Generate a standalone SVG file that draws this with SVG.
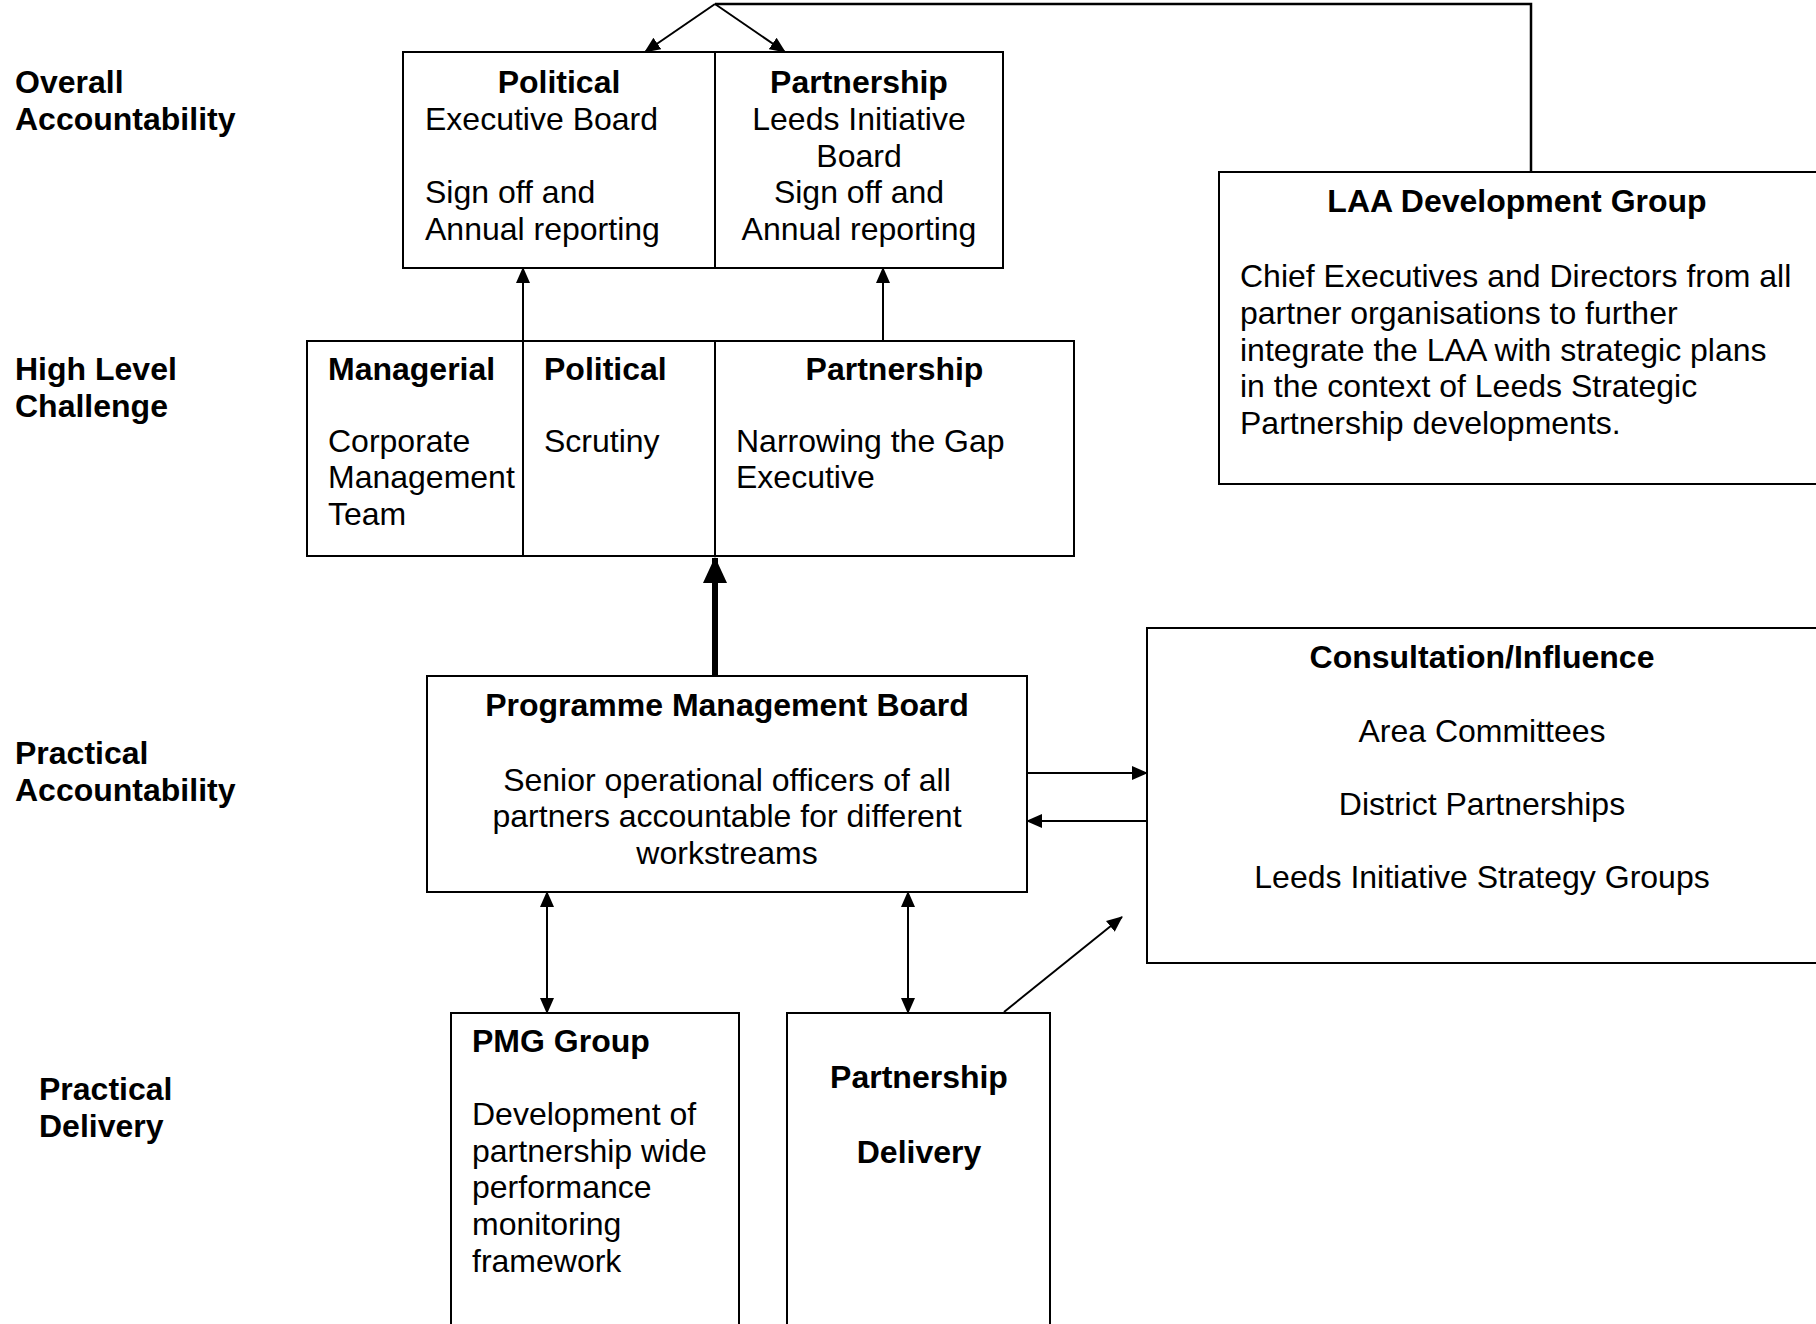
<svg xmlns="http://www.w3.org/2000/svg" width="1816" height="1324" viewBox="0 0 1816 1324">
<style>
text{font-family:"Liberation Sans",Arial,sans-serif;font-size:32px;fill:#000}
.b{font-weight:bold}
.m{text-anchor:middle}
.box{fill:#fff;stroke:#000;stroke-width:2}
.ln{fill:none;stroke:#000;stroke-width:2}
.c{fill:none;stroke:#000;stroke-width:2;marker-end:url(#ah)}
.d{fill:none;stroke:#000;stroke-width:2;marker-end:url(#ah);marker-start:url(#ahs)}
</style>
<defs>
<marker id="ah" viewBox="0 0 16 14" refX="15" refY="7" markerWidth="16" markerHeight="14" markerUnits="userSpaceOnUse" orient="auto"><path d="M0,0 L16,7 L0,14 z" fill="#000"/></marker>
<marker id="ahs" viewBox="0 0 16 14" refX="15" refY="7" markerWidth="16" markerHeight="14" markerUnits="userSpaceOnUse" orient="auto-start-reverse"><path d="M0,0 L16,7 L0,14 z" fill="#000"/></marker>
<marker id="ahb" viewBox="0 0 26 24" refX="25" refY="12" markerWidth="26" markerHeight="24" markerUnits="userSpaceOnUse" orient="auto"><path d="M0,0 L26,12 L0,24 z" fill="#000"/></marker>
</defs>
<rect width="1816" height="1324" fill="#fff"/>

<g id="labels">
<text class="b" x="15" y="93">Overall</text>
<text class="b" x="15" y="130">Accountability</text>
<text class="b" x="15" y="380">High Level</text>
<text class="b" x="15" y="417">Challenge</text>
<text class="b" x="15" y="764">Practical</text>
<text class="b" x="15" y="801">Accountability</text>
<text class="b" x="39" y="1100">Practical</text>
<text class="b" x="39" y="1137">Delivery</text>
</g>

<g id="overall">
<rect class="box" x="403" y="52" width="600" height="216"/>
<line class="ln" x1="715" y1="52" x2="715" y2="268"/>
<text class="b m" x="559" y="93">Political</text>
<text x="425" y="130">Executive Board</text>
<text x="425" y="203">Sign off and</text>
<text x="425" y="240">Annual reporting</text>
<text class="b m" x="859" y="93">Partnership</text>
<text class="m" x="859" y="130">Leeds Initiative</text>
<text class="m" x="859" y="166.5">Board</text>
<text class="m" x="859" y="203">Sign off and</text>
<text class="m" x="859" y="240">Annual reporting</text>
</g>

<g id="highlevel">
<rect class="box" x="307" y="341" width="767" height="215"/>
<line class="ln" x1="523" y1="341" x2="523" y2="556"/>
<line class="ln" x1="715" y1="341" x2="715" y2="556"/>
<text class="b" x="328" y="380">Managerial</text>
<text x="328" y="452">Corporate</text>
<text x="328" y="488">Management</text>
<text x="328" y="525">Team</text>
<text class="b" x="544" y="380">Political</text>
<text x="544" y="452">Scrutiny</text>
<text class="b m" x="894.5" y="380">Partnership</text>
<text x="736" y="452">Narrowing the Gap</text>
<text x="736" y="488">Executive</text>
</g>

<g id="laa">
<rect class="box" x="1219" y="172" width="620" height="312"/>
<text class="b m" x="1517" y="212">LAA Development Group</text>
<text x="1240" y="287">Chief Executives and Directors from all</text>
<text x="1240" y="324">partner organisations to further</text>
<text x="1240" y="361">integrate the LAA with strategic plans</text>
<text x="1240" y="397">in the context of Leeds Strategic</text>
<text x="1240" y="434">Partnership developments.</text>
</g>

<g id="pmb">
<rect class="box" x="427" y="676" width="600" height="216"/>
<text class="b m" x="727" y="716">Programme Management Board</text>
<text class="m" x="727" y="791">Senior operational officers of all</text>
<text class="m" x="727" y="827">partners accountable for different</text>
<text class="m" x="727" y="864">workstreams</text>
</g>

<g id="consultation">
<rect class="box" x="1147" y="628" width="690" height="335"/>
<text class="b m" x="1482" y="668">Consultation/Influence</text>
<text class="m" x="1482" y="741.5">Area Committees</text>
<text class="m" x="1482" y="815">District Partnerships</text>
<text class="m" x="1482" y="888">Leeds Initiative Strategy Groups</text>
</g>

<g id="pmg">
<rect class="box" x="451" y="1013" width="288" height="330"/>
<text class="b" x="472" y="1052">PMG Group</text>
<text x="472" y="1125">Development of</text>
<text x="472" y="1162">partnership wide</text>
<text x="472" y="1198">performance</text>
<text x="472" y="1235">monitoring</text>
<text x="472" y="1272">framework</text>
</g>

<g id="delivery">
<rect class="box" x="787" y="1013" width="263" height="330"/>
<text class="b m" x="919" y="1088">Partnership</text>
<text class="b m" x="919" y="1163">Delivery</text>
</g>

<g id="connectors">
<polyline class="ln" points="715,4 1531,4 1531,172" style="stroke-width:2.5"/>
<line class="c" x1="715" y1="4" x2="645" y2="52"/>
<line class="c" x1="715" y1="4" x2="785" y2="52"/>
<line class="c" x1="523" y1="341" x2="523" y2="268"/>
<line class="c" x1="883" y1="341" x2="883" y2="268"/>
<line x1="715" y1="676" x2="715" y2="558" stroke="#000" stroke-width="6" marker-end="url(#ahb)"/>
<line class="c" x1="1027" y1="773" x2="1147" y2="773"/>
<line class="c" x1="1147" y1="821" x2="1027" y2="821"/>
<line class="d" x1="547" y1="892" x2="547" y2="1013"/>
<line class="d" x1="908" y1="892" x2="908" y2="1013"/>
<line class="c" x1="1004" y1="1012" x2="1122" y2="917"/>
</g>
</svg>
